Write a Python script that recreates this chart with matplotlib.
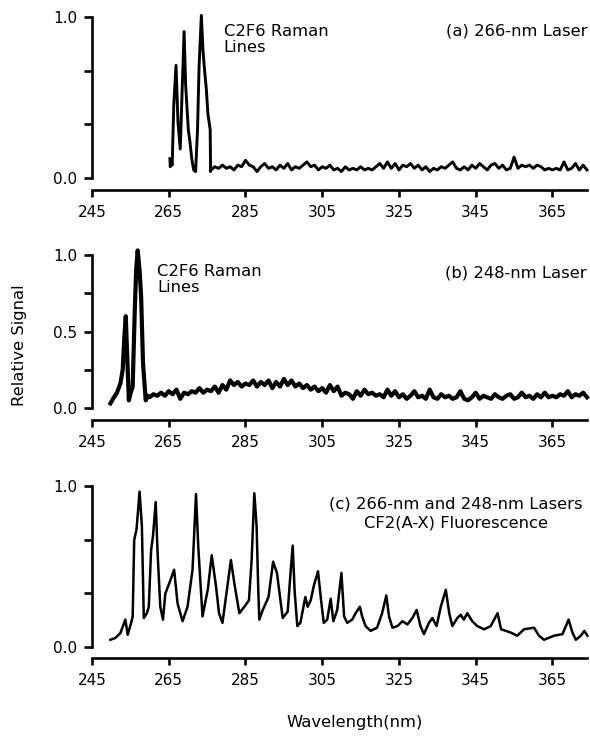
import matplotlib
matplotlib.use("Agg")
import matplotlib.pyplot as plt

plt.rcParams['font.family'] = ['DejaVu Sans']

# ---------------- data ----------------
x_ticks = [245, 265, 285, 305, 325, 345, 365]
x_range = [245, 374]

# panel (a) 266-nm laser
a_peak_wl = [265.3, 265.4, 265.6, 265.9, 266.3, 266.9, 267.4, 268.0, 268.5, 269.0, 269.4,
             269.8, 270.1, 270.5, 271.0, 271.5, 272.0, 272.5, 272.9, 273.5, 273.9, 274.3,
             274.8, 275.2, 275.8, 275.9]
a_peak_val = [0.12, 0.07, 0.10, 0.08, 0.45, 0.70, 0.35, 0.18, 0.55, 0.91, 0.58,
              0.42, 0.30, 0.23, 0.12, 0.05, 0.04, 0.30, 0.69, 1.01, 0.80, 0.68,
              0.55, 0.40, 0.30, 0.04]
a_base_wl = [276, 277, 278, 279, 280, 281, 282, 283, 284, 285, 286, 287, 288, 289, 290,
             291, 292, 293, 294, 295, 296, 297, 298, 299, 300, 301, 302, 303, 304, 305,
             306, 307, 308, 309, 310, 311, 312, 313, 314, 315, 316, 317, 318, 319, 320,
             321, 322, 323, 324, 325, 326, 327, 328, 329, 330, 331, 332, 333, 334, 335,
             336, 337, 338, 339, 340, 341, 342, 343, 344, 345, 346, 347, 348, 349, 350,
             351, 352, 353, 354, 355, 356, 357, 358, 359, 360, 361, 362, 363, 364, 365,
             366, 367, 368, 369, 370, 371, 372, 373, 374]
a_base_val = [0.05, 0.07, 0.06, 0.08, 0.06, 0.07, 0.05, 0.08, 0.07, 0.11, 0.08, 0.07, 0.04, 0.07, 0.09,
              0.06, 0.07, 0.05, 0.08, 0.06, 0.09, 0.05, 0.07, 0.06, 0.08, 0.10, 0.07, 0.08, 0.05, 0.07,
              0.06, 0.08, 0.05, 0.06, 0.04, 0.07, 0.05, 0.06, 0.05, 0.07, 0.05, 0.06, 0.05, 0.07, 0.09,
              0.06, 0.10, 0.06, 0.09, 0.05, 0.08, 0.07, 0.09, 0.06, 0.08, 0.05, 0.07, 0.04, 0.06, 0.05,
              0.07, 0.06, 0.08, 0.10, 0.06, 0.05, 0.07, 0.05, 0.08, 0.06, 0.09, 0.07, 0.05, 0.08, 0.09,
              0.06, 0.08, 0.05, 0.06, 0.13, 0.06, 0.08, 0.07, 0.08, 0.06, 0.08, 0.07, 0.05, 0.06, 0.05,
              0.06, 0.05, 0.10, 0.05, 0.06, 0.09, 0.05, 0.08, 0.05]

# panel (b) 248-nm laser
b_peak_wl = [249.8, 250.6, 251.5, 252.4, 253.0, 253.4, 253.8, 254.1, 254.6, 255.1, 255.6,
             256.1, 256.5, 256.9, 257.4, 257.8, 258.3, 259.0, 259.5]
b_peak_val = [0.03, 0.065, 0.10, 0.16, 0.25, 0.45, 0.60, 0.40, 0.05, 0.10, 0.14,
              0.60, 0.90, 1.03, 0.90, 0.73, 0.29, 0.05, 0.08]
b_base_wl = [260, 261, 262, 263, 264, 265, 266, 267, 268, 269, 270, 271, 272, 273, 274,
             275, 276, 277, 278, 279, 280, 281, 282, 283, 284, 285, 286, 287, 288, 289,
             290, 291, 292, 293, 294, 295, 296, 297, 298, 299, 300, 301, 302, 303, 304,
             305, 306, 307, 308, 309, 310, 311, 312, 313, 314, 315, 316, 317, 318, 319,
             320, 321, 322, 323, 324, 325, 326, 327, 328, 329, 330, 331, 332, 333, 334,
             335, 336, 337, 338, 339, 340, 341, 342, 343, 344, 345, 346, 347, 348, 349,
             350, 351, 352, 353, 354, 355, 356, 357, 358, 359, 360, 361, 362, 363, 364,
             365, 366, 367, 368, 369, 370, 371, 372, 373, 374]
b_base_val = [0.07, 0.09, 0.08, 0.10, 0.08, 0.11, 0.09, 0.12, 0.06, 0.10, 0.09, 0.11, 0.10, 0.13, 0.10,
              0.12, 0.11, 0.14, 0.10, 0.15, 0.12, 0.18, 0.15, 0.17, 0.14, 0.16, 0.15, 0.18, 0.14, 0.17,
              0.15, 0.18, 0.13, 0.17, 0.14, 0.19, 0.15, 0.18, 0.14, 0.16, 0.13, 0.15, 0.12, 0.14, 0.11,
              0.13, 0.10, 0.15, 0.11, 0.14, 0.08, 0.10, 0.09, 0.06, 0.11, 0.08, 0.12, 0.09, 0.10, 0.08,
              0.09, 0.07, 0.12, 0.08, 0.11, 0.07, 0.09, 0.06, 0.08, 0.11, 0.07, 0.08, 0.06, 0.12, 0.07,
              0.06, 0.09, 0.07, 0.08, 0.06, 0.07, 0.11, 0.06, 0.05, 0.07, 0.10, 0.06, 0.08, 0.07, 0.06,
              0.09, 0.07, 0.06, 0.08, 0.09, 0.06, 0.07, 0.10, 0.07, 0.08, 0.06, 0.09, 0.07, 0.10, 0.07,
              0.08, 0.07, 0.09, 0.08, 0.11, 0.07, 0.09, 0.08, 0.10, 0.07]

# panel (c) CF2(A-X) fluorescence
c_wl = [249.8, 251.1, 252.4, 253.7, 254.3, 255.2, 255.6, 256.0, 256.6, 257.4, 258.0, 258.5,
        259.3, 259.8, 260.4, 260.9, 261.6, 262.1, 262.8, 263.5, 264.1, 265.2, 266.4, 267.3,
        268.6, 269.9, 271.2, 272.1, 272.7, 273.8, 275.2, 276.2, 277.3, 278.1, 279.0, 280.3,
        281.2, 282.2, 283.4, 284.7, 285.9, 286.6, 287.3, 287.9, 288.3, 288.6, 289.5, 291.0,
        292.2, 293.2, 294.7, 296.0, 296.8, 297.3, 297.8, 298.5, 299.3, 300.6, 301.2, 302.0,
        302.8, 303.9, 304.7, 305.4, 306.3, 307.2, 307.9, 308.9, 310.0, 310.7, 311.5, 312.8,
        313.7, 314.8, 315.4, 316.3, 317.6, 319.3, 320.6, 321.7, 322.4, 323.3, 324.6, 325.9,
        327.2, 328.5, 329.6, 330.6, 331.5, 332.8, 333.7, 334.8, 335.9, 337.2, 338.1, 338.9,
        340.2, 341.1, 341.9, 342.8, 344.1, 345.4, 347.2, 348.9, 350.7, 351.6, 352.9, 354.1,
        355.8, 357.6, 360.2, 361.5, 362.8, 365.4, 367.6, 368.5, 369.2, 370.2, 371.1, 372.4,
        373.3, 374.1]
c_val = [0.045, 0.056, 0.087, 0.17, 0.076, 0.15, 0.19, 0.665, 0.73, 0.965, 0.75, 0.18,
         0.21, 0.25, 0.60, 0.69, 0.90, 0.58, 0.25, 0.17, 0.33, 0.40, 0.48, 0.27,
         0.16, 0.25, 0.48, 0.95, 0.62, 0.19, 0.36, 0.57, 0.38, 0.21, 0.15, 0.38,
         0.54, 0.38, 0.21, 0.25, 0.29, 0.54, 0.955, 0.75, 0.38, 0.17, 0.23, 0.31,
         0.53, 0.46, 0.18, 0.22, 0.48, 0.63, 0.35, 0.13, 0.15, 0.31, 0.25, 0.29,
         0.38, 0.47, 0.29, 0.15, 0.17, 0.30, 0.16, 0.23, 0.46, 0.19, 0.15, 0.17,
         0.21, 0.25, 0.19, 0.13, 0.10, 0.12, 0.21, 0.32, 0.19, 0.12, 0.13, 0.16,
         0.14, 0.18, 0.23, 0.13, 0.08, 0.15, 0.18, 0.13, 0.25, 0.355, 0.21, 0.13,
         0.18, 0.20, 0.17, 0.21, 0.16, 0.13, 0.11, 0.13, 0.21, 0.11, 0.10, 0.09,
         0.07, 0.11, 0.12, 0.07, 0.045, 0.07, 0.08, 0.13, 0.17, 0.09, 0.045, 0.07,
         0.10, 0.07]

panel_a_labels = ["(a) 266-nm Laser", "C2F6 Raman\nLines"]
panel_b_labels = ["(b) 248-nm Laser", "C2F6 Raman\nLines"]
panel_c_label = "(c) 266-nm and 248-nm Lasers\nCF2(A-X) Fluorescence"

# ---------------- layout ----------------
W, H = 590, 740
fig = plt.figure(figsize=(W / 100, H / 100), dpi=100)
FS = 11
FT = 11.8
LW_SP = 1.9


def make_ax(y_top, y_zero, x_axis_px, yticks, ylabels):
    left, right = 92, 587
    ax = fig.add_axes([left / W, (H - y_zero) / H, (right - left) / W, (y_zero - y_top) / H])
    ax.set_xlim(*x_range)
    ax.set_ylim(0, 1)
    for s in ['top', 'right']:
        ax.spines[s].set_visible(False)
    ax.spines['left'].set_bounds(0, 1)
    ax.spines['left'].set_linewidth(LW_SP)
    ax.spines['bottom'].set_linewidth(LW_SP)
    ax.spines['bottom'].set_position(('outward', (x_axis_px - y_zero) * 0.72))
    ax.set_xticks(x_ticks)
    ax.set_xticklabels([str(t) for t in x_ticks], fontsize=FS)
    ax.set_yticks(yticks)
    ax.set_yticklabels(ylabels, fontsize=FS)
    ax.tick_params(axis='y', length=6, width=LW_SP, pad=4.5)
    ax.tick_params(axis='x', length=5, width=LW_SP, pad=6)
    ax.patch.set_alpha(0)
    return ax


third = [0, 1 / 3, 2 / 3, 1]
ax_a = make_ax(17, 178, 190, third, ['0.0', '', '', '1.0'])
ax_a.plot(a_peak_wl + a_base_wl, a_peak_val + a_base_val, color='black', lw=2.1, clip_on=False)
ax_a.text(1.0, 0.91, panel_a_labels[0], transform=ax_a.transAxes, ha='right', va='center', fontsize=FT)
ax_a.text(279.3, 0.955, panel_a_labels[1], ha='left', va='top', fontsize=FT, linespacing=1.1)

ax_b = make_ax(255, 408, 420, [0, 0.25, 0.5, 0.75, 1], ['0.0', '', '0.5', '', '1.0'])
ax_b.plot(b_peak_wl + b_base_wl, b_peak_val + b_base_val, color='black', lw=3.0, clip_on=False)
ax_b.text(1.0, 0.88, panel_b_labels[0], transform=ax_b.transAxes, ha='right', va='center', fontsize=FT)
ax_b.text(262.0, 0.94, panel_b_labels[1], ha='left', va='top', fontsize=FT, linespacing=1.1)

ax_c = make_ax(486, 647, 658, third, ['0.0', '', '', '1.0'])
ax_c.plot(c_wl, c_val, color='black', lw=1.8, clip_on=False)
fig.text(456 / W, 1 - 513.5 / H, panel_c_label, ha='center', va='center', fontsize=FT,
         multialignment='center', linespacing=1.3)

fig.text(20 / W, 1 - 345 / H, "Relative Signal", rotation=90, ha='center', va='center', fontsize=FT)
fig.text(355 / W, 1 - 723 / H, "Wavelength(nm)", ha='center', va='center', fontsize=FT)

fig.savefig("out.png", dpi=100)
